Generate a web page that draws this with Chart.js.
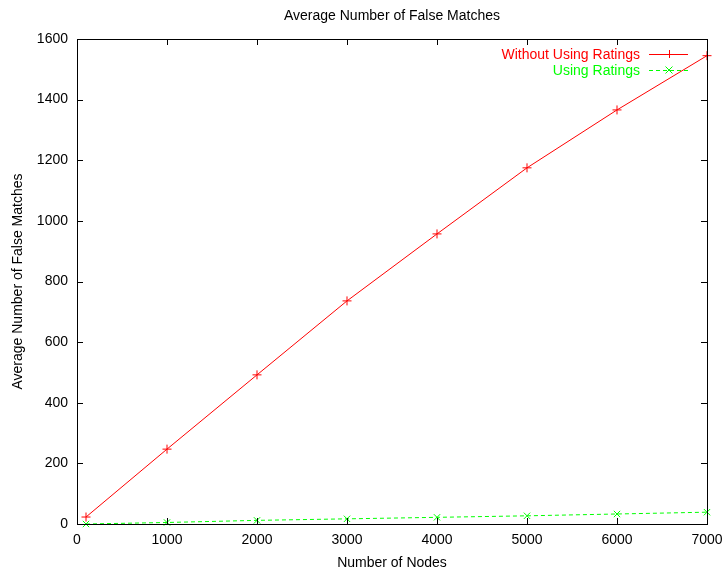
<!DOCTYPE html>
<html><head><meta charset="utf-8">
<script src="https://cdn.jsdelivr.net/npm/chart.js@4"></script>
<style>html,body{margin:0;padding:0;background:#fff}#wrap{width:724px;height:578px}</style>
</head><body><div id="wrap"><canvas id="c"></canvas></div>
<script>
const nodes = [100, 1000, 2000, 3000, 4000, 5000, 6000, 7000];
const withoutRatings = [23, 247, 492, 736, 957, 1175, 1366, 1545];
const withRatings = [0, 5, 12, 17, 22, 27, 33, 39];
const seriesNames = ["Without Using Ratings", "Using Ratings"];
const chartTitle = 'Average Number of False Matches';
const FONT = "'Liberation Sans', Arial, sans-serif";
const FS = 14;

const frame = {
  id: 'frame',
  afterDatasetsDraw(chart) {
    const {ctx, chartArea: a, scales: {x, y}} = chart;
    ctx.save();
    ctx.strokeStyle = '#000';
    ctx.lineWidth = 1;
    ctx.beginPath();
    const L = 6;
    x.ticks.forEach(t => {
      const px = Math.round(x.getPixelForValue(t.value)) + 0.5;
      ctx.moveTo(px, a.bottom); ctx.lineTo(px, a.bottom - L);
      ctx.moveTo(px, a.top); ctx.lineTo(px, a.top + L);
    });
    y.ticks.forEach(t => {
      const py = Math.round(y.getPixelForValue(t.value)) + 0.5;
      ctx.moveTo(a.left, py); ctx.lineTo(a.left + L, py);
      ctx.moveTo(a.right, py); ctx.lineTo(a.right - L, py);
    });
    ctx.stroke();
    ctx.strokeRect(Math.round(a.left) + 0.5, Math.round(a.top) + 0.5, Math.round(a.right - a.left), Math.round(a.bottom - a.top));
    // title centred over the plot area
    ctx.font = FS + 'px ' + FONT;
    ctx.fillStyle = '#000';
    ctx.textAlign = 'center';
    ctx.textBaseline = 'middle';
    ctx.fillText(chartTitle, (a.left + a.right) / 2, 16);
    // legend
    ctx.textAlign = 'right';
    const rows = [{t: seriesNames[0], c: '#ff0000', dash: [], ps: '+', yy: 54},
                  {t: seriesNames[1], c: '#00ff00', dash: [4, 3], ps: 'x', yy: 70}];
    rows.forEach(r => {
      ctx.fillStyle = r.c;
      ctx.fillText(r.t, 640, r.yy + 1);
      ctx.strokeStyle = r.c;
      ctx.setLineDash(r.dash);
      ctx.beginPath();
      ctx.moveTo(649, r.yy + 0.5); ctx.lineTo(688, r.yy + 0.5);
      ctx.stroke();
      ctx.setLineDash([]);
      ctx.beginPath();
      if (r.ps === '+') {
        ctx.moveTo(669 - 4, r.yy + 0.5); ctx.lineTo(669 + 4, r.yy + 0.5);
        ctx.moveTo(669.5, r.yy - 4); ctx.lineTo(669.5, r.yy + 4);
      } else {
        ctx.moveTo(669 - 3.5, r.yy - 3.5); ctx.lineTo(669 + 3.5, r.yy + 3.5);
        ctx.moveTo(669 - 3.5, r.yy + 3.5); ctx.lineTo(669 + 3.5, r.yy - 3.5);
      }
      ctx.stroke();
    });
    ctx.restore();
  }
};

new Chart(document.getElementById('c'), {
  type: 'line',
  data: {
    datasets: [
      {label: seriesNames[0], data: nodes.map((n, i) => ({x: n, y: withoutRatings[i]})),
       borderColor: '#ff0000', backgroundColor: '#ff0000', borderWidth: 1,
       pointStyle: 'cross', pointRadius: 4.5, pointBorderWidth: 1, pointBorderColor: '#ff0000', tension: 0, clip: false},
      {label: seriesNames[1], data: nodes.map((n, i) => ({x: n, y: withRatings[i]})),
       borderColor: '#00ff00', backgroundColor: '#00ff00', borderWidth: 1, borderDash: [4, 3],
       pointStyle: 'crossRot', pointRadius: 4.5, pointBorderWidth: 1, pointBorderColor: '#00ff00', tension: 0, clip: false}
    ]
  },
  options: {
    responsive: true, maintainAspectRatio: false, animation: false,
    layout: {padding: {left: 0, right: 17, top: 39, bottom: 0}},
    plugins: {
      legend: {display: false},
      tooltip: {enabled: false},
      title: {display: false}
    },
    scales: {
      x: {type: 'linear', min: 0, max: 7000,
          ticks: {stepSize: 1000, color: '#000', font: {family: FONT, size: FS}, padding: 8, maxRotation: 0,
                  callback: v => String(v)},
          grid: {display: false, drawTicks: false}, border: {display: false},
          title: {display: true, text: 'Number of Nodes', color: '#000', font: {family: FONT, size: FS}, padding: {top: 0, bottom: 6}},
          afterFit(s) { s.height = 54; s.paddingRight = 0; s.paddingLeft = 0; }},
      y: {min: 0, max: 1600,
          ticks: {stepSize: 200, color: '#000', font: {family: FONT, size: FS}, padding: 9,
                  callback: v => String(v)},
          grid: {display: false, drawTicks: false}, border: {display: false},
          title: {display: true, text: 'Average Number of False Matches', color: '#000', font: {family: FONT, size: FS}, padding: {top: 10, bottom: 0}},
          afterFit(s) { s.width = 77; s.paddingTop = 0; s.paddingBottom = 0; }}
    }
  },
  plugins: [frame]
});
</script></body></html>
